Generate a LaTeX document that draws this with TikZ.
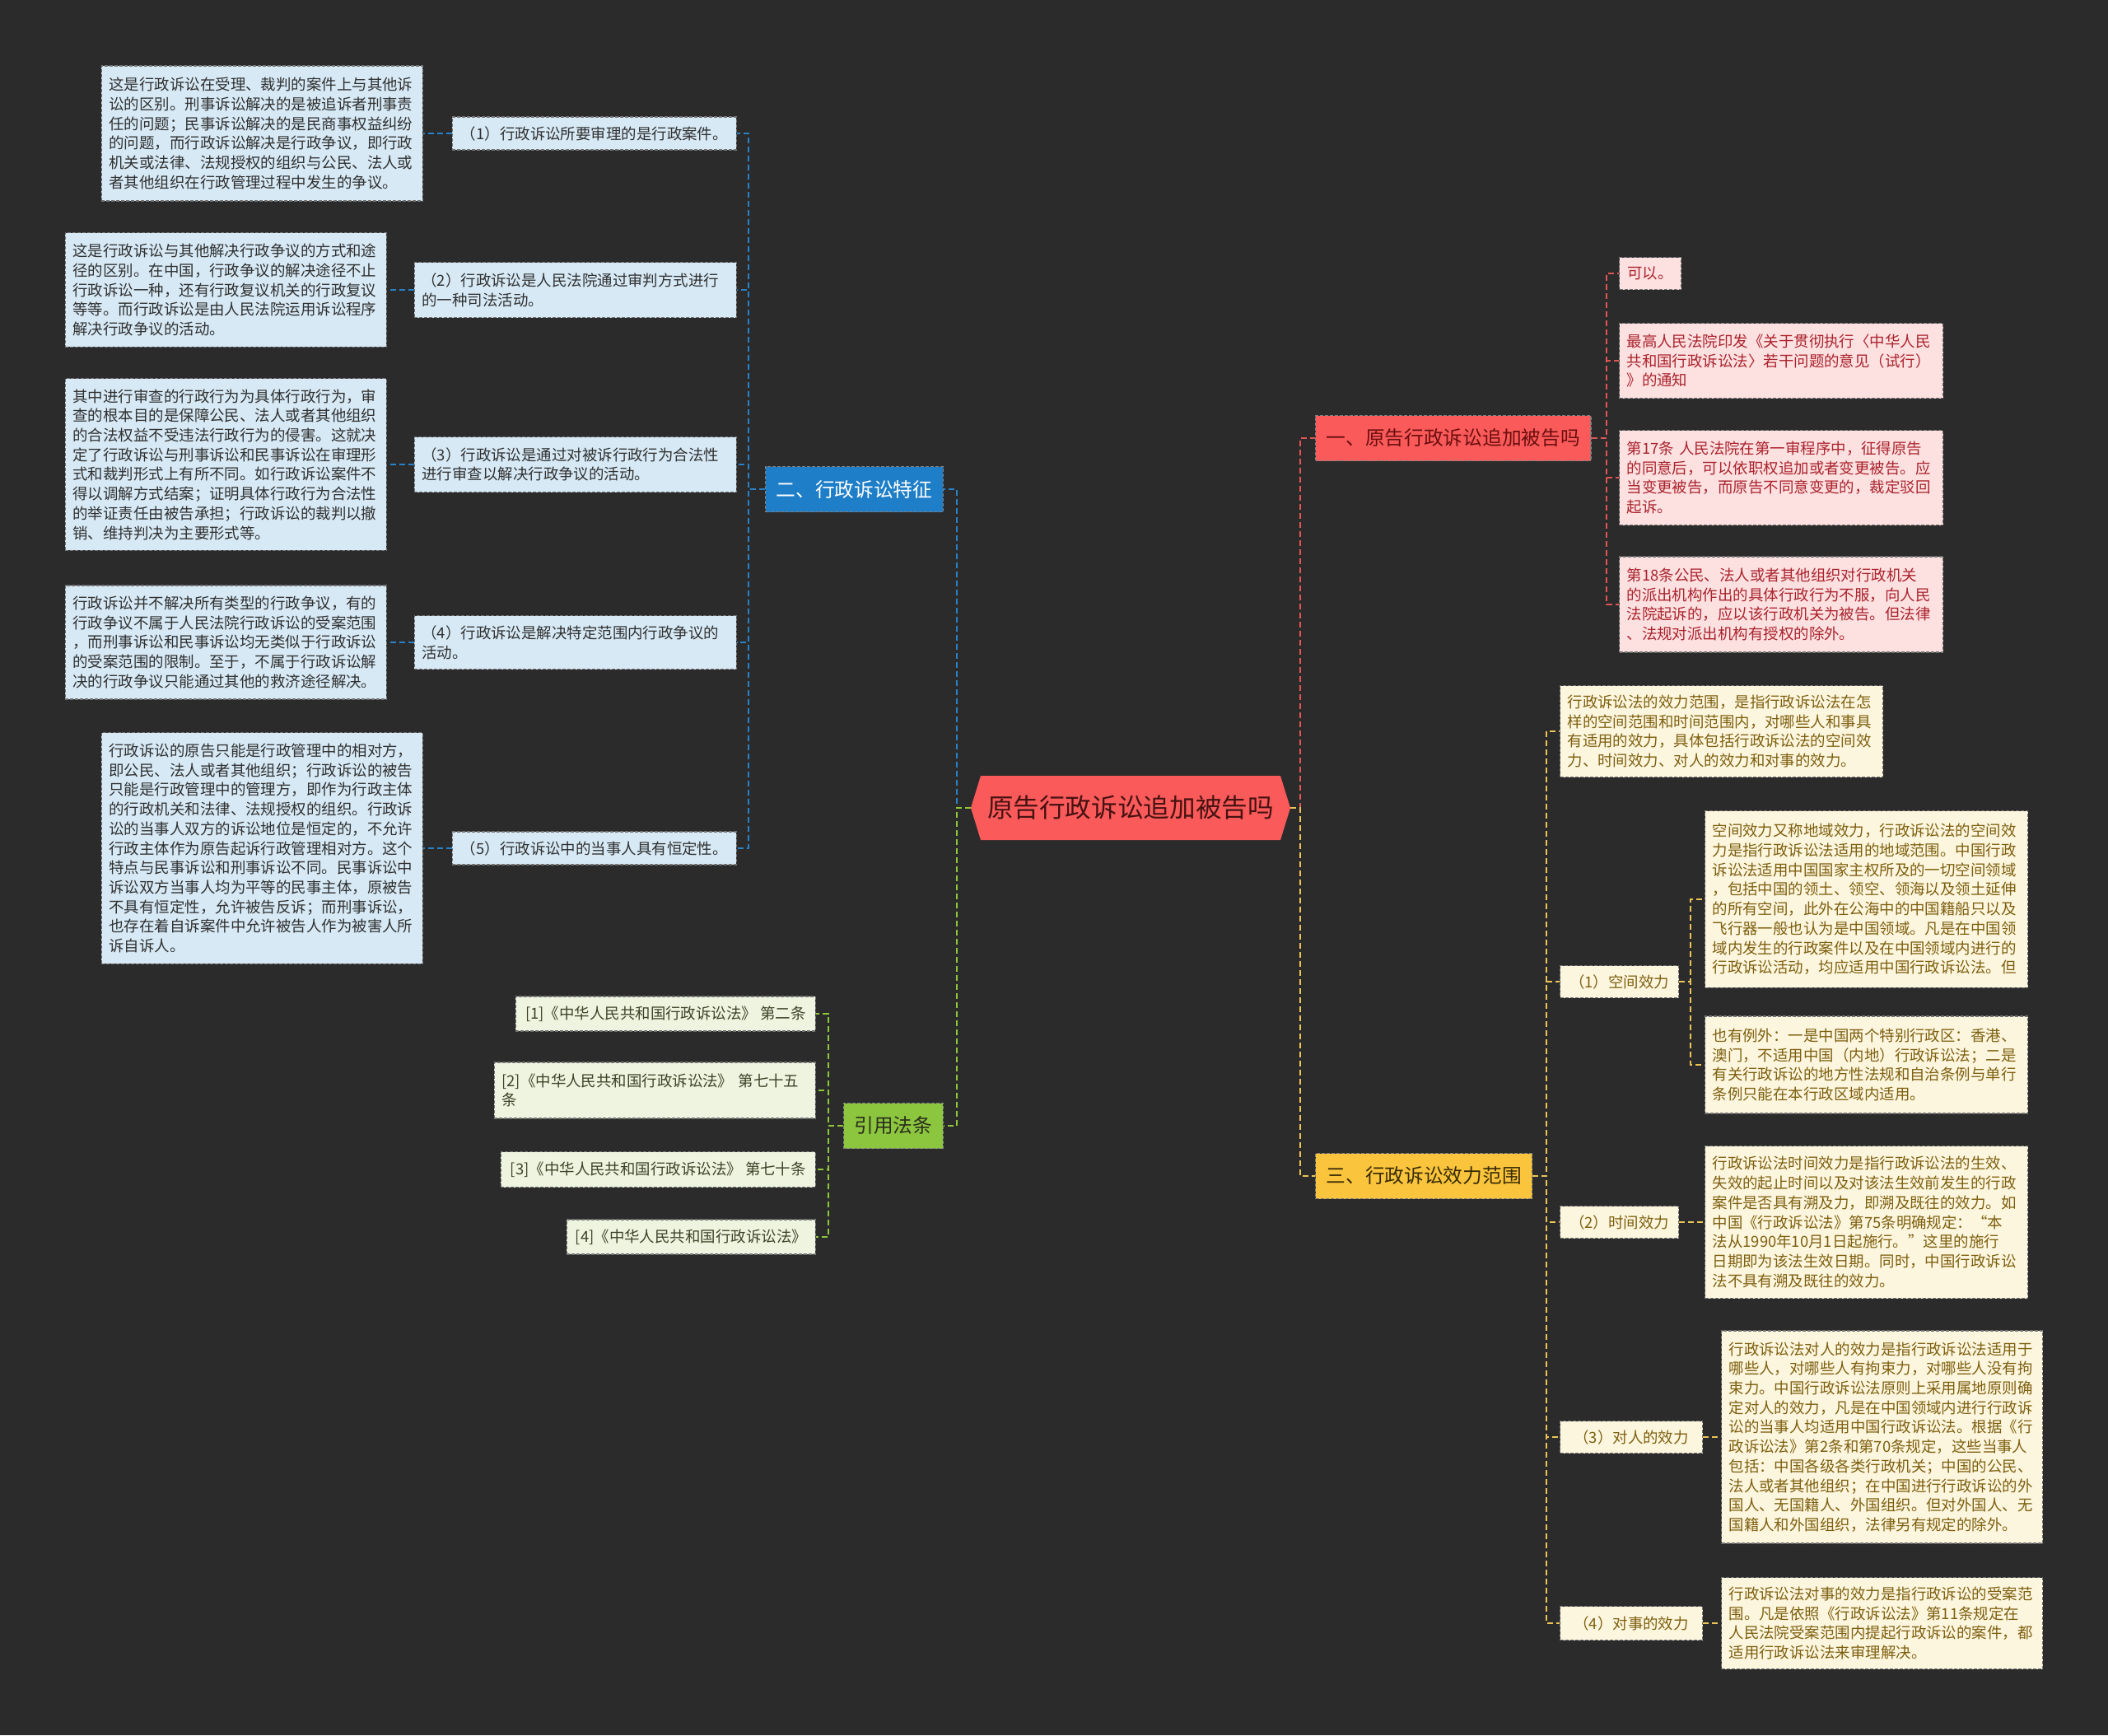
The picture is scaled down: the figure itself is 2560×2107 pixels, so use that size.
\documentclass[tikz,border=0pt]{standalone}
\usepackage{fontspec}
\usepackage{tikz}
\newfontfamily\notosc{Noto Sans CJK SC}
\definecolor{bgdark}{RGB}{43,43,43}
\definecolor{rootred}{RGB}{250,90,90}
\definecolor{rootink}{RGB}{70,18,18}
\definecolor{featblue}{RGB}{30,126,200}
\definecolor{featfill}{RGB}{214,233,245}
\definecolor{featink}{RGB}{48,48,48}
\definecolor{featline}{RGB}{40,130,200}
\definecolor{addred}{RGB}{250,90,90}
\definecolor{addfill}{RGB}{253,224,224}
\definecolor{addink}{RGB}{170,35,45}
\definecolor{addline}{RGB}{225,85,85}
\definecolor{scopegold}{RGB}{250,196,60}
\definecolor{scopefill}{RGB}{253,246,222}
\definecolor{scopeink}{RGB}{125,95,15}
\definecolor{scopeline}{RGB}{236,196,85}
\definecolor{citegreen}{RGB}{140,198,63}
\definecolor{citefill}{RGB}{238,244,224}
\definecolor{citeink}{RGB}{62,66,40}
\definecolor{citeline}{RGB}{140,200,55}
\newcommand{\detailfont}{\notosc\fontsize{10.5pt}{13.5pt}\selectfont}
\newcommand{\branchfont}{\notosc\fontsize{13.5pt}{16pt}\selectfont}
\newcommand{\rootfont}{\notosc\fontsize{18pt}{22pt}\selectfont}
\begin{document}
\begin{tikzpicture}[x=0.02cm, y=-0.02cm,
  wire/.style={line width=0.04cm, dash pattern=on 0.14cm off 0.08cm},
  featwire/.style={wire, draw=featline},
  addwire/.style={wire, draw=addline},
  scopewire/.style={wire, draw=scopeline},
  citewire/.style={wire, draw=citeline},
  box/.style={draw=black!55, line width=0.025cm, dash pattern=on 0.08cm off 0.04cm,
              inner xsep=0.18cm, inner ysep=2pt, font=\detailfont, align=left},
  featbox/.style={box, fill=featfill, text=featink},
  addbox/.style={box, fill=addfill, text=addink},
  scopebox/.style={box, fill=scopefill, text=scopeink},
  citebox/.style={box, fill=citefill, text=citeink},
  branch/.style={draw=black!50, line width=0.025cm, dash pattern=on 0.08cm off 0.04cm,
                 inner xsep=0.26cm, minimum height=1.1cm, font=\branchfont},
  rootnode/.style={minimum width=7.76cm, minimum height=1.56cm, font=\rootfont, text=rootink}]
  % canvas: 2560 x 2107 px, 1px = 0.02cm
  \fill[bgdark] (0,0) rectangle (2560,2107);
  % ============= Root =============
  \fill[rootred] (1179,981) -- (1191,942) -- (1555,942) -- (1567,981)
                 -- (1555,1020) -- (1191,1020) -- cycle;
  \node[rootnode] (root) at (1373,981) {原告行政诉讼追加被告吗};
  % ============= Branch: 二、行政诉讼特征 =============
  \node[branch, fill=featblue, text=white, anchor=east] (feat) at (1146,594) {二、行政诉讼特征};
  \node[featbox, anchor=east, minimum width=6.9cm, minimum height=0.8cm] (f1) at (895,162)
    {（1）行政诉讼所要审理的是行政案件。};
  \node[featbox, anchor=east, text width=7.46cm, minimum height=1.34cm] (f2) at (895,352)
    {（2）行政诉讼是人民法院通过审判方式进行\\的一种司法活动。};
  \node[featbox, anchor=east, text width=7.46cm, minimum height=1.34cm] (f3) at (895,564)
    {（3）行政诉讼是通过对被诉行政行为合法性\\进行审查以解决行政争议的活动。};
  \node[featbox, anchor=east, text width=7.46cm, minimum height=1.3cm] (f4) at (895,780)
    {（4）行政诉讼是解决特定范围内行政争议的\\活动。};
  \node[featbox, anchor=east, minimum width=6.9cm, minimum height=0.8cm] (f5) at (895,1030)
    {（5）行政诉讼中的当事人具有恒定性。};
  \node[featbox, anchor=east, text width=7.44cm, minimum height=3.28cm] (d1) at (514,162)
    {这是行政诉讼在受理、裁判的案件上与其他诉\\讼的区别。刑事诉讼解决的是被追诉者刑事责\\任的问题；民事诉讼解决的是民商事权益纠纷\\的问题，而行政诉讼解决是行政争议，即行政\\机关或法律、法规授权的组织与公民、法人或\\者其他组织在行政管理过程中发生的争议。};
  \node[featbox, anchor=east, text width=7.44cm, minimum height=2.78cm] (d2) at (470,352)
    {这是行政诉讼与其他解决行政争议的方式和途\\径的区别。在中国，行政争议的解决途径不止\\行政诉讼一种，还有行政复议机关的行政复议\\等等。而行政诉讼是由人民法院运用诉讼程序\\解决行政争议的活动。};
  \node[featbox, anchor=east, text width=7.44cm, minimum height=4.18cm] (d3) at (470,564)
    {其中进行审查的行政行为为具体行政行为，审\\查的根本目的是保障公民、法人或者其他组织\\的合法权益不受违法行政行为的侵害。这就决\\定了行政诉讼与刑事诉讼和民事诉讼在审理形\\式和裁判形式上有所不同。如行政诉讼案件不\\得以调解方式结案；证明具体行政行为合法性\\的举证责任由被告承担；行政诉讼的裁判以撤\\销、维持判决为主要形式等。};
  \node[featbox, anchor=east, text width=7.44cm, minimum height=2.76cm] (d4) at (470,780)
    {行政诉讼并不解决所有类型的行政争议，有的\\行政争议不属于人民法院行政诉讼的受案范围\\，而刑事诉讼和民事诉讼均无类似于行政诉讼\\的受案范围的限制。至于，不属于行政诉讼解\\决的行政争议只能通过其他的救济途径解决。};
  \node[featbox, anchor=east, text width=7.44cm, minimum height=5.62cm] (d5) at (514,1030)
    {行政诉讼的原告只能是行政管理中的相对方，\\即公民、法人或者其他组织；行政诉讼的被告\\只能是行政管理中的管理方，即作为行政主体\\的行政机关和法律、法规授权的组织。行政诉\\讼的当事人双方的诉讼地位是恒定的，不允许\\行政主体作为原告起诉行政管理相对方。这个\\特点与民事诉讼和刑事诉讼不同。民事诉讼中\\诉讼双方当事人均为平等的民事主体，原被告\\不具有恒定性，允许被告反诉；而刑事诉讼，\\也存在着自诉案件中允许被告人作为被害人所\\诉自诉人。};
  % ============= Branch: 引用法条 =============
  \node[branch, fill=citegreen, text=citeink!70!black, anchor=east] (cite) at (1146,1367) {引用法条};
  \node[citebox, anchor=east, minimum width=7.28cm, minimum height=0.84cm] (c1) at (991,1231)
    {[1]《中华人民共和国行政诉讼法》 第二条};
  \node[citebox, anchor=east, text width=7.44cm, minimum height=1.36cm] (c2) at (991,1324)
    {[2]《中华人民共和国行政诉讼法》~第七十五\\条};
  \node[citebox, anchor=east, minimum width=7.64cm, minimum height=0.86cm] (c3) at (991,1420)
    {[3]《中华人民共和国行政诉讼法》 第七十条};
  \node[citebox, anchor=east, minimum width=6.04cm, minimum height=0.84cm] (c4) at (991,1502)
    {[4]《中华人民共和国行政诉讼法》};
  % ============= Branch: 一、原告行政诉讼追加被告吗 =============
  \node[branch, fill=addred, text=rootink!80!red, anchor=west] (add) at (1597,532) {一、原告行政诉讼追加被告吗};
  \node[addbox, anchor=west, minimum width=1.5cm, minimum height=0.78cm] (a1) at (1966,332) {可以。};
  \node[addbox, anchor=west, text width=7.5cm, minimum height=1.82cm] (a2) at (1966,438)
    {最高人民法院印发《关于贯彻执行〈中华人民\\共和国行政诉讼法〉若干问题的意见（试行）\\》的通知};
  \node[addbox, anchor=west, text width=7.5cm, minimum height=2.3cm] (a3) at (1966,580)
    {第17条 人民法院在第一审程序中，征得原告\\的同意后，可以依职权追加或者变更被告。应\\当变更被告，而原告不同意变更的，裁定驳回\\起诉。};
  \node[addbox, anchor=west, text width=7.5cm, minimum height=2.32cm] (a4) at (1966,734)
    {第18条公民、法人或者其他组织对行政机关\\的派出机构作出的具体行政行为不服，向人民\\法院起诉的，应以该行政机关为被告。但法律\\、法规对派出机构有授权的除外。};
  % ============= Branch: 三、行政诉讼效力范围 =============
  \node[branch, fill=scopegold, text=scopeink!45!black, anchor=west] (scope) at (1597,1428) {三、行政诉讼效力范围};
  \node[scopebox, anchor=west, text width=7.48cm, minimum height=2.22cm] (e0) at (1894,888)
    {行政诉讼法的效力范围，是指行政诉讼法在怎\\样的空间范围和时间范围内，对哪些人和事具\\有适用的效力，具体包括行政诉讼法的空间效\\力、时间效力、对人的效力和对事的效力。};
  \node[scopebox, anchor=west, minimum width=2.88cm, minimum height=0.78cm] (sp) at (1894,1192) {（1）空间效力};
  \node[scopebox, anchor=west, minimum width=2.88cm, minimum height=0.78cm] (tm) at (1894,1484) {（2）时间效力};
  \node[scopebox, anchor=west, minimum width=3.46cm, minimum height=0.78cm] (ps) at (1894,1745) {（3）对人的效力};
  \node[scopebox, anchor=west, minimum width=3.46cm, minimum height=0.82cm] (mt) at (1894,1971) {（4）对事的效力};
  \node[scopebox, anchor=west, text width=7.48cm, minimum height=4.3cm] (s1) at (2070,1092)
    {空间效力又称地域效力，行政诉讼法的空间效\\力是指行政诉讼法适用的地域范围。中国行政\\诉讼法适用中国国家主权所及的一切空间领域\\，包括中国的领土、领空、领海以及领土延伸\\的所有空间，此外在公海中的中国籍船只以及\\飞行器一般也认为是中国领域。凡是在中国领\\域内发生的行政案件以及在中国领域内进行的\\行政诉讼活动，均应适用中国行政诉讼法。但};
  \node[scopebox, anchor=west, text width=7.48cm, minimum height=2.36cm] (s2) at (2070,1293)
    {也有例外：一是中国两个特别行政区：香港、\\澳门，不适用中国（内地）行政诉讼法；二是\\有关行政诉讼的地方性法规和自治条例与单行\\条例只能在本行政区域内适用。};
  \node[scopebox, anchor=west, text width=7.48cm, minimum height=3.7cm] (t1) at (2070,1484)
    {行政诉讼法时间效力是指行政诉讼法的生效、\\失效的起止时间以及对该法生效前发生的行政\\案件是否具有溯及力，即溯及既往的效力。如\\中国《行政诉讼法》第75条明确规定：“本\\法从1990年10月1日起施行。”这里的施行\\日期即为该法生效日期。同时，中国行政诉讼\\法不具有溯及既往的效力。};
  \node[scopebox, anchor=west, text width=7.44cm, minimum height=5.16cm] (p1) at (2090,1745)
    {行政诉讼法对人的效力是指行政诉讼法适用于\\哪些人，对哪些人有拘束力，对哪些人没有拘\\束力。中国行政诉讼法原则上采用属地原则确\\定对人的效力，凡是在中国领域内进行行政诉\\讼的当事人均适用中国行政诉讼法。根据《行\\政诉讼法》第2条和第70条规定，这些当事人\\包括：中国各级各类行政机关；中国的公民、\\法人或者其他组织；在中国进行行政诉讼的外\\国人、无国籍人、外国组织。但对外国人、无\\国籍人和外国组织，法律另有规定的除外。};
  \node[scopebox, anchor=west, text width=7.44cm, minimum height=2.22cm] (m1) at (2090,1971)
    {行政诉讼法对事的效力是指行政诉讼的受案范\\围。凡是依照《行政诉讼法》第11条规定在\\人民法院受案范围内提起行政诉讼的案件，都\\适用行政诉讼法来审理解决。};
  % --- wires: root -> branches ---
  \draw[featwire] (root.west) -- ++(-17,0) |- (feat.east);
  \draw[citewire] (root.west) -- ++(-17,0) |- (cite.east);
  \draw[addwire] (root.east) -- ++(12,0) |- (add.west);
  \draw[scopewire] (root.east) -- ++(12,0) |- (scope.west);
  % --- wires: branches -> leaves ---
  \foreach \n in {1,...,5} {
    \draw[featwire] (feat.west) -- ++(-20,0) |- (f\n.east);
    \draw[featwire] (f\n.west) -- (d\n.east);
  }
  \foreach \n in {1,...,4} {
    \draw[citewire] (cite.west) -- ++(-18,0) |- (c\n.east);
    \draw[addwire] (add.east) -- ++(18,0) |- (a\n.west);
  }
  \foreach \n in {e0,sp,tm,ps,mt}
    \draw[scopewire] (scope.east) -- ++(17,0) |- (\n.west);
  \draw[scopewire] (sp.east) -- ++(14,0) |- (s1.west);
  \draw[scopewire] (sp.east) -- ++(14,0) |- (s2.west);
  \draw[scopewire] (tm.east) -- (t1.west);
  \draw[scopewire] (ps.east) -- (p1.west);
  \draw[scopewire] (mt.east) -- (m1.west);
\end{tikzpicture}
\end{document}
